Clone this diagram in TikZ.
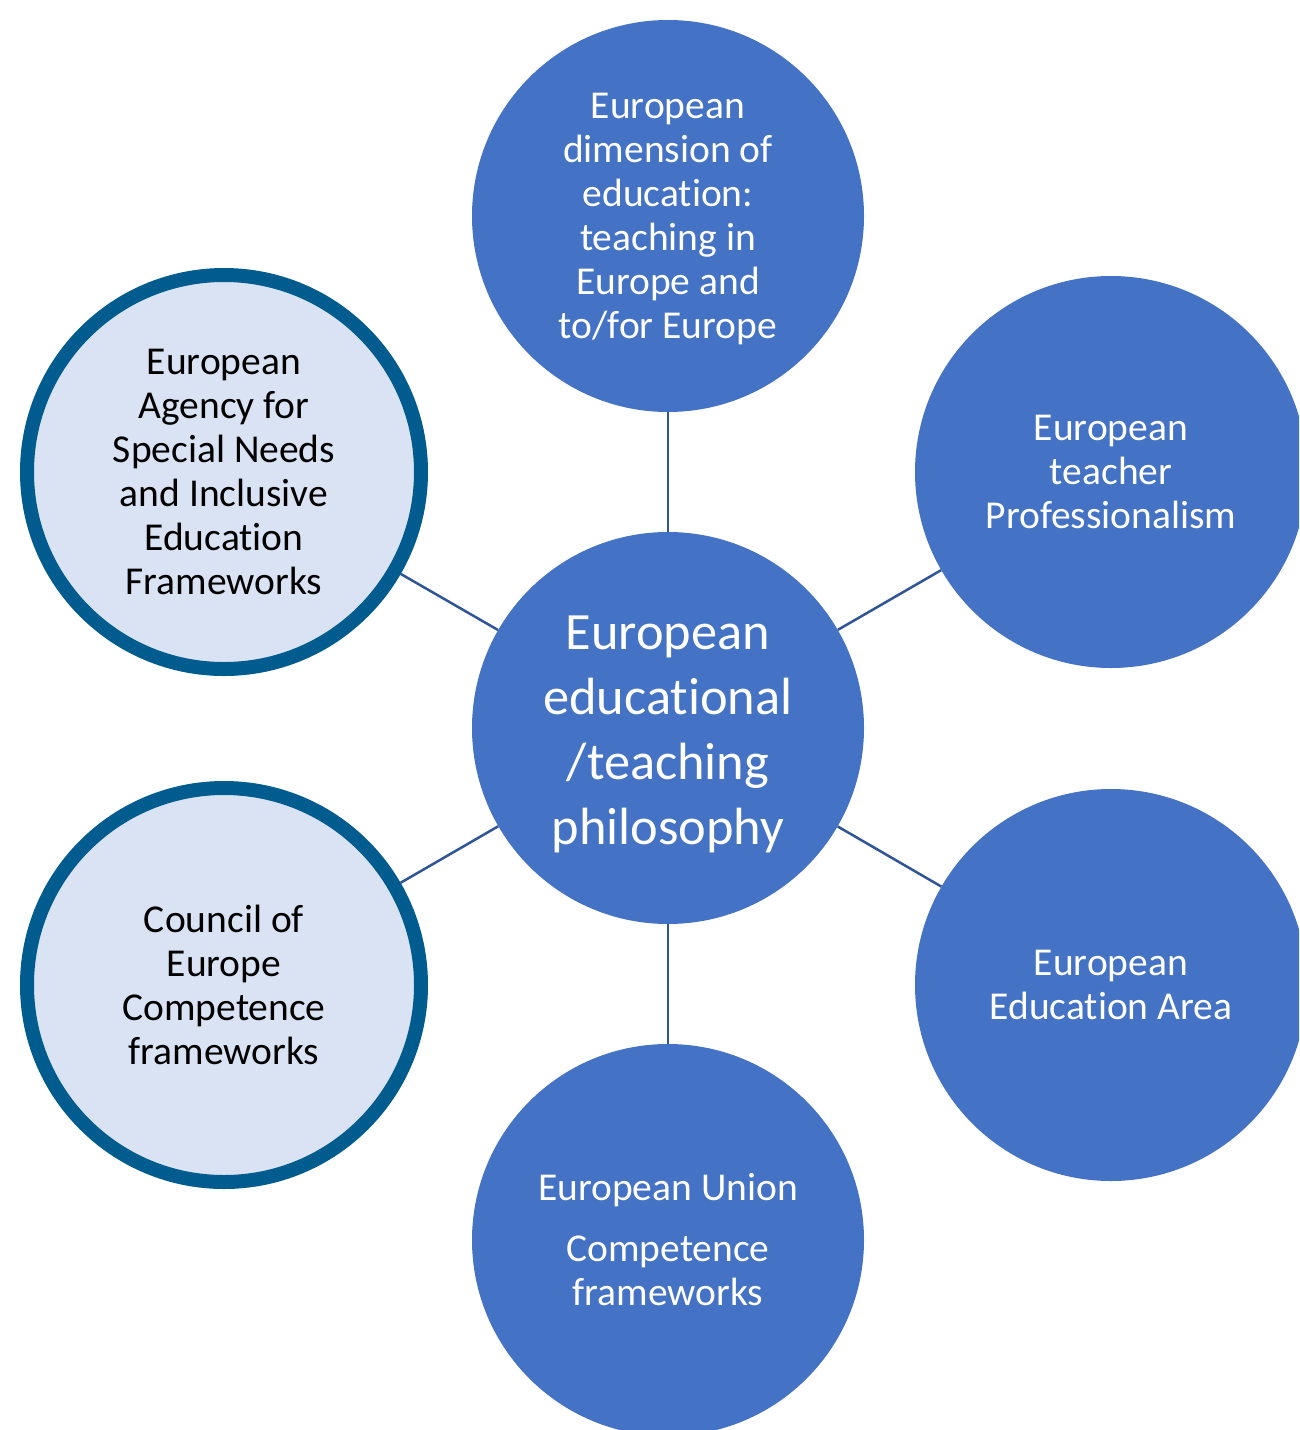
\documentclass[tikz,border=0pt]{standalone}
\usepackage{fontspec}
\setmainfont{Carlito}[Ligatures=NoCommon]
\usepackage{xcolor}
\usetikzlibrary{positioning}
\definecolor{hubblue}{RGB}{68,114,196}
\definecolor{paleblue}{RGB}{218,227,243}
\definecolor{rimblue}{RGB}{0,91,142}
\definecolor{linkblue}{RGB}{47,85,151}

\begin{document}
\begin{tikzpicture}[
  x=1pt, y=-1pt,
  bub/.style   ={circle, inner sep=0pt, minimum size=392pt, align=center,
                 fill=hubblue, text=white,
                 font=\fontsize{39.5}{44}\selectfont},
  hub/.style   ={bub, font=\fontsize{52.4}{65}\selectfont},
  framed/.style={bub, minimum size=394pt, fill=paleblue, text=black,
                 draw=rimblue, line width=14pt},
  link/.style  ={draw=linkblue, line width=2.5pt}]

\clip (0,0) rectangle (1299,1430);

% strut on the first line drops the hub text a little
\node[hub] (phil) at (668,728) {%
  \rule{0pt}{46pt}European\\educational\\/teaching\\philosophy};

\node[bub] (dim) at (668,216) {%
  \rule{0pt}{32pt}European\\dimension of\\education:\\teaching in\\Europe and\\to/for Europe};

\node[bub] (prof) at (1111,472) {%
  European\\teacher\\Professionalism};

\node[bub] (area) at (1111,985) {%
  European\\Education Area};

\node[bub] (eu) at (668,1240) {%
  European Union\\[17pt]Competence\\frameworks};

\node[framed] (coe) at (224,985) {%
  Council of\\Europe\\Competence\\frameworks};

\node[framed] (agency) at (224,472) {%
  European\\Agency for\\Special Needs\\and Inclusive\\Education\\Frameworks};

\foreach \n in {dim, prof, area, eu, coe, agency}
  \draw[link] (phil) -- (\n);
\end{tikzpicture}
\end{document}
